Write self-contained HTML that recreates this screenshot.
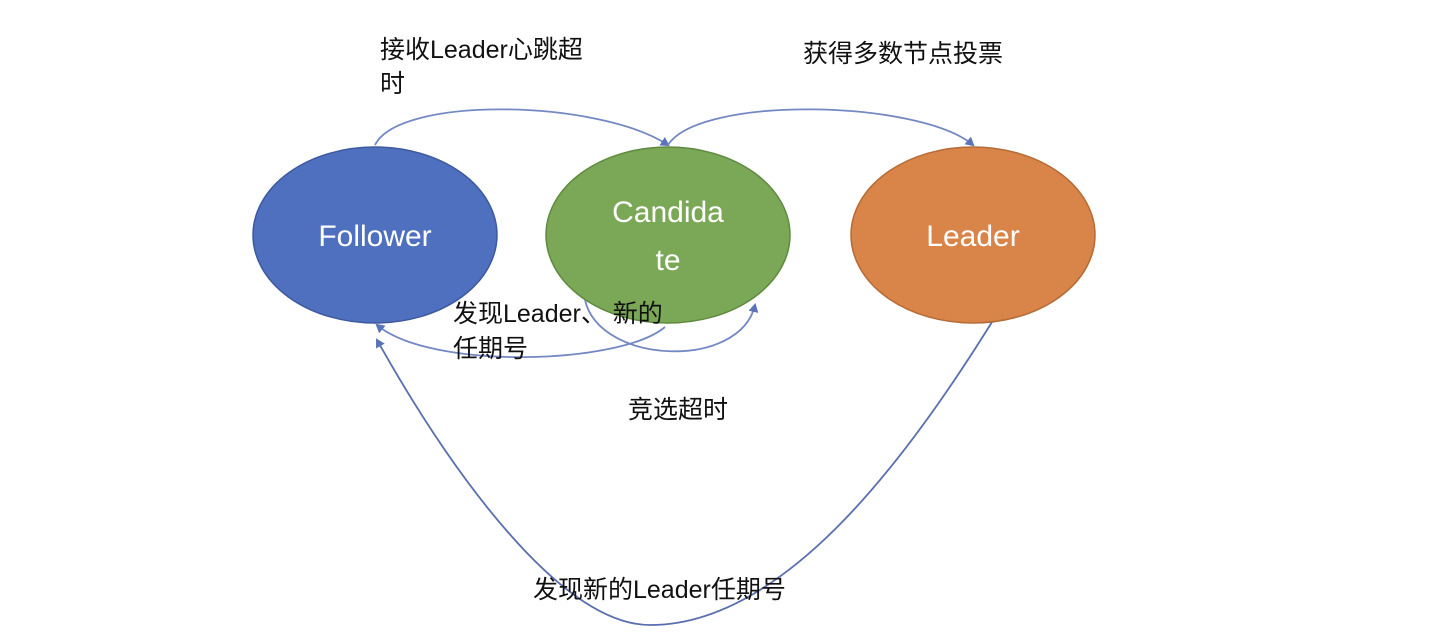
<!DOCTYPE html>
<html><head><meta charset="utf-8"><style>
body{margin:0;background:#fff;}
svg{display:block}
text{font-family:"Liberation Sans","Noto Sans CJK SC",sans-serif;}
</style></head><body>
<svg width="1434" height="642" viewBox="0 0 1434 642" xmlns="http://www.w3.org/2000/svg">
<defs><marker id="a" markerWidth="10" markerHeight="10" refX="7" refY="5" orient="auto" markerUnits="userSpaceOnUse"><path d="M0,0 L9,5 L0,10 Z" fill="#5b73b8"/></marker></defs>
<ellipse cx="375" cy="235" rx="122" ry="88" fill="#4f6fbf" stroke="#3d5a9f" stroke-width="1.5"/>
<ellipse cx="668" cy="235" rx="122" ry="88" fill="#7ba857" stroke="#5f8a40" stroke-width="1.5"/>
<ellipse cx="973" cy="235" rx="122" ry="88" fill="#d98549" stroke="#b56b35" stroke-width="1.5"/>
<g fill="none" stroke="#7489c4" stroke-width="1.8">
<path d="M375,145 C400,95 600,100 668,145" marker-end="url(#a)"/>
<path d="M668,145 C700,95 920,100 973,145" marker-end="url(#a)"/>
<path d="M665,327 C620,365 430,370 377,325" marker-end="url(#a)"/>
<path d="M585,300 C600,365 740,370 755,305" marker-end="url(#a)"/>
<path d="M992,322 C900,470 780,625 650,625 C560,625 450,470 377,340" stroke="#5a6fae" marker-end="url(#a)"/>
</g>
<g fill="#fff" font-size="30" text-anchor="middle">
<text x="375" y="246">Follower</text>
<text x="668" y="222">Candida</text>
<text x="668" y="270">te</text>
<text x="973" y="246">Leader</text>
</g>
<g fill="#111" font-size="25">
<text x="380" y="58">接收Leader心跳超</text>
<text x="380" y="92">时</text>
<text x="803" y="62">获得多数节点投票</text>
<text x="453" y="322">发现Leader、 新的</text>
<text x="453" y="357">任期号</text>
<text x="628" y="418">竞选超时</text>
<text x="533" y="598">发现新的Leader任期号</text>
</g>
</svg>
</body></html>
